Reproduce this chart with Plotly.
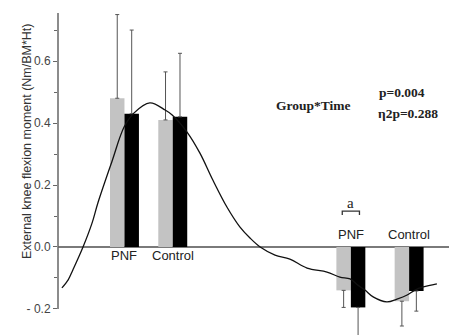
import plotly.graph_objects as go

# ---------------- data ----------------
group_names = ["PNF", "Control", "PNF", "Control"]
group_time = [17.0, 29.35, 74.9, 89.8]          # position of each group on the (hidden) time axis, % of cycle

pre_vals = [0.48, 0.41, -0.14, -0.175]           # grey bars
post_vals = [0.43, 0.42, -0.195, -0.142]         # black bars
pre_sd = [0.27, 0.155, 0.055, 0.08]
post_sd = [0.27, 0.205, 0.12, 0.065]

curve_t = [1.0, 2.6, 3.8, 6.4, 8.7, 10.2, 13.8, 16.9, 19.4, 23.5, 27.4, 29.2, 33.0,
           36.3, 39.6, 43.2, 46.5, 49.1, 51.7, 55.5, 59.3, 63.7, 68.8, 72.1, 74.7,
           76.7, 78.5, 80.6, 84.1, 86.7, 89.3, 91.3, 93.4, 96.9]
curve_m = [-0.132, -0.106, -0.074, 0.0, 0.077, 0.142, 0.276, 0.387, 0.432, 0.465,
           0.442, 0.426, 0.371, 0.303, 0.216, 0.129, 0.065, 0.029, 0.0, -0.026,
           -0.039, -0.068, -0.081, -0.097, -0.103, -0.123, -0.139, -0.161, -0.177,
           -0.168, -0.155, -0.139, -0.129, -0.119]

y_ticks = [-0.2, 0.0, 0.2, 0.4, 0.6]
y_tick_text = ["- 0.2", "0.0", "0.2", "0.4", "0.6"]
y_minor = [-0.1, 0.1, 0.3, 0.5, 0.7]

# ---------------- figure ----------------
W, H = 449, 335
bw = 3.7
sans = "Liberation Sans, Arial, sans-serif"
serif = "Liberation Serif, Times New Roman, serif"


def err(vals, sd):
    up = [s if v >= 0 else 0 for v, s in zip(vals, sd)]
    down = [s if v < 0 else 0 for v, s in zip(vals, sd)]
    return dict(type="data", symmetric=False, array=up, arrayminus=down,
                color="#555555", thickness=1, width=2)


fig = go.Figure()
fig.add_trace(go.Bar(x=group_time, y=pre_vals, width=bw, offset=-bw,
                     marker=dict(color="#c3c3c3", line=dict(width=0)),
                     error_y=err(pre_vals, pre_sd), name="Pre"))
fig.add_trace(go.Bar(x=group_time, y=post_vals, width=bw, offset=0,
                     marker=dict(color="#000000", line=dict(width=0)),
                     error_y=err(post_vals, post_sd), name="Post"))
fig.add_trace(go.Scatter(x=curve_t, y=curve_m, mode="lines",
                         line=dict(color="#111111", width=1.3, shape="spline", smoothing=1),
                         hoverinfo="skip", name="curve"))

x0 = 58 / W
fig.update_layout(
    width=W, height=H, margin=dict(l=0, r=0, t=0, b=0),
    paper_bgcolor="white", plot_bgcolor="white",
    barmode="overlay", showlegend=False,
    xaxis=dict(range=[0, 100], domain=[x0, 1], visible=False),
    yaxis=dict(range=[-0.284, 0.797], domain=[0, 1],
               tickvals=y_ticks, ticktext=y_tick_text,
               ticks="outside", ticklen=4, tickwidth=1, tickcolor="#666666",
               minor=dict(tickvals=y_minor, ticks="outside", ticklen=3, tickcolor="#666666"),
               tickfont=dict(family=sans, size=12, color="#444444"),
               showgrid=False, showline=False,
               zeroline=True, zerolinecolor="#7a7a7a", zerolinewidth=1.5),
)

# y axis line (only between -0.2 and top)
fig.add_shape(type="line", xref="paper", yref="y", x0=x0, x1=x0, y0=-0.2, y1=0.755,
              line=dict(color="#666666", width=1.5))

# axis title
fig.add_annotation(text="External knee flexion moment (Nm/BM*Ht)", xref="paper", yref="paper",
                   x=18 / W, y=1 - 141 / H, textangle=-90, showarrow=False,
                   font=dict(family=sans, size=12.5, color="#333333"))

# group labels
label_y = [-0.027, -0.027, 0.039, 0.039]
for name, t, ly in zip(group_names, group_time, label_y):
    fig.add_annotation(text=name, x=t, y=ly, xref="x", yref="y", showarrow=False,
                       font=dict(family=sans, size=13, color="#222222"))

# significance mark
fig.add_annotation(text="a", x=group_time[2], y=0.143, xref="x", yref="y", showarrow=False,
                   font=dict(family=serif, size=15, color="#222222"))
fig.add_shape(type="path", xref="x", yref="y",
              path="M 72.7 0.103 L 72.7 0.116 L 77.1 0.116 L 77.1 0.103",
              line=dict(color="#333333", width=1.3))

# statistics
fig.add_annotation(text="<b>Group*Time</b>", x=65.3, y=0.455, xref="x", yref="y",
                   showarrow=False, font=dict(family=serif, size=13.5, color="#222222"))
fig.add_annotation(text="<b>p=0.004</b>", x=81.6, y=0.497, xref="x", yref="y", xanchor="left",
                   showarrow=False, font=dict(family=serif, size=13.5, color="#222222"))
fig.add_annotation(text="<b>η2p=0.288</b>", x=81.3, y=0.432, xref="x", yref="y", xanchor="left",
                   showarrow=False, font=dict(family=serif, size=13.5, color="#222222"))

fig.write_html("out.html", config={"displayModeBar": False},
               post_script="document.body.style.margin='0';document.body.style.overflow='hidden';")
